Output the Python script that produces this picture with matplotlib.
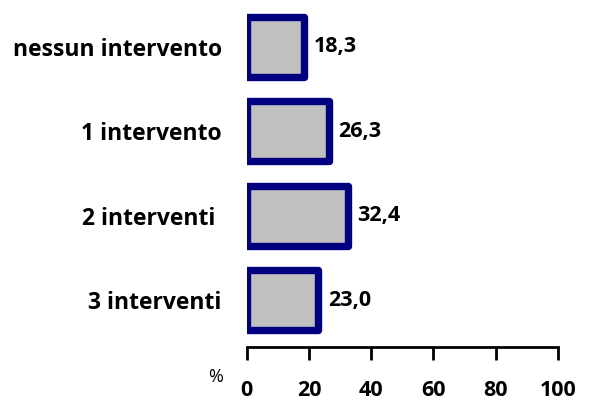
import matplotlib
matplotlib.use("Agg")
import matplotlib.pyplot as plt

categories = ["nessun intervento", "1 intervento", "2 interventi ", "3 interventi"]
values = [18.3, 26.3, 32.4, 23.0]
value_labels = ["18,3", "26,3", "32,4", "23,0"]
xticks = [0, 20, 40, 60, 80, 100]

plt.rcParams['font.family'] = ['Open Sans', 'DejaVu Sans']

fig = plt.figure(figsize=(5.89, 4.01), dpi=100)
ax = fig.add_axes([246.7/589, (401-347)/401, (558-246.7)/589, 347/401])

ypos = list(range(len(categories)))
ax.barh(ypos, values, height=0.71, color="#C0C0C0", edgecolor="#000080",
        linewidth=5.3, joinstyle="round")
for y, v, lab in zip(ypos, values, value_labels):
    ax.text(v + 3.2, y, lab, va="center", ha="left", fontsize=15.5, fontweight="bold")

ax.set_xlim(0, 100)
ax.set_ylim(3.55, -0.55)
ax.set_yticks(ypos)
ax.set_yticklabels(categories, fontsize=16.5, fontweight="bold")
ax.tick_params(axis="y", length=0, pad=18)
ax.set_xticks(xticks)
ax.set_xticklabels([str(t) for t in xticks], fontsize=15.5, fontweight="bold")
ax.tick_params(axis="x", length=9, width=2, direction="out", pad=15)
for s in ["top", "right", "left"]:
    ax.spines[s].set_visible(False)
ax.spines["bottom"].set_linewidth(2)
ax.patch.set_alpha(0)

fig.text(216/589, 1 - 377/401, "%", fontsize=13, ha="center", va="center")

fig.savefig("out.png", dpi=100)
